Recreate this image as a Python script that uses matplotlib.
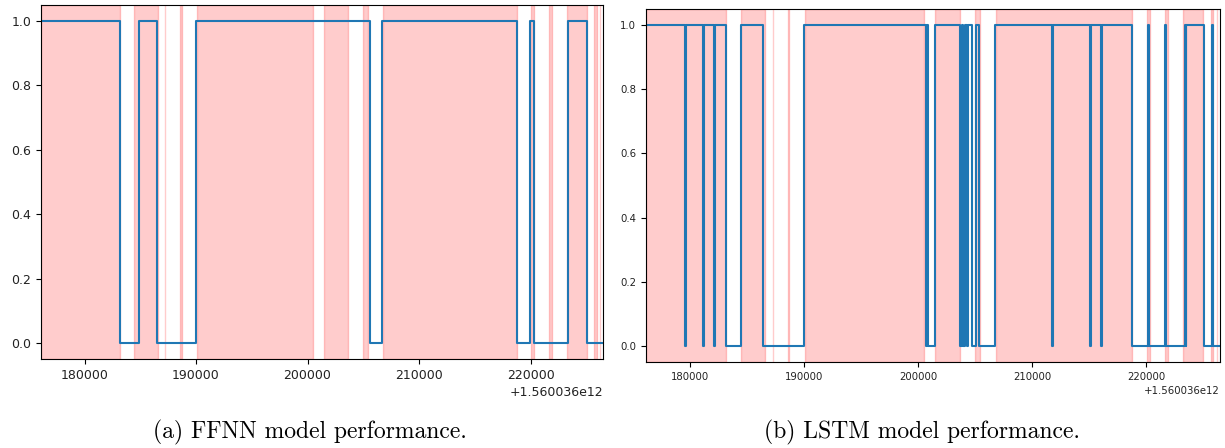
import matplotlib
matplotlib.use('Agg')
import matplotlib.pyplot as plt

# time offsets (ms) relative to 1.560036e12
BASE = 1.560036e12
XLIM = (176100, 226500)

# ground truth intervals shown as red shading
truth_spans = [
  (176100, 183150), (184450, 186550), (187220, 187260), (188550, 188700),
  (190100, 200520), (201500, 203640), (205000, 205400), (206800, 218760),
  (220060, 220330), (221650, 221900), (223250, 225050), (225680, 225930),
  (226200, 226240),
]

# FFNN prediction: change points and value from that point on
ffnn_t = [176100, 183200, 184840, 186480, 189980, 205600, 206700, 218780,
          219960, 220300, 223360, 225030, 226500]
ffnn_v = [1, 0, 1, 0, 1, 0, 1, 0, 1, 0, 1, 0, 0]

# LSTM prediction
lstm_t = [176100, 179560, 179640, 181090, 181170, 182060, 182140, 183140, 184470,
          186410, 189990, 200680, 200780, 200900, 201450, 203680, 203860, 203970,
          204100, 204270, 204360, 204710, 205090, 205300, 206770, 211770, 211850,
          215070, 215150, 216060, 216140, 218740, 220160, 220240, 221710, 221790,
          223390, 223480, 223560, 225070, 225840, 225920, 226500]
lstm_v = [1, 0, 1, 0, 1, 0, 1, 0, 1,
          0, 1, 0, 1, 0, 1, 0, 1, 0,
          1, 0, 1, 0, 1, 0, 1, 0, 1,
          0, 1, 0, 1, 0, 1, 0, 1, 0,
          1, 0, 1, 0, 1, 0, 0]

captions = ['(a) FFNN model performance.', '(b) LSTM model performance.']


def draw(ax, t, v, fs):
  for a, b in truth_spans:
    ax.axvspan(BASE + a, BASE + b, color='red', alpha=0.2)
  ax.plot([BASE + x for x in t], v, drawstyle='steps-post', color='#1f77b4', lw=1.5)
  ax.set_xlim(BASE + XLIM[0], BASE + XLIM[1])
  ax.set_ylim(-0.05, 1.05)
  ax.set_xticks([BASE + x for x in (180000, 190000, 200000, 210000, 220000)])
  ax.tick_params(labelsize=fs, labelcolor='#222222')
  ax.xaxis.get_offset_text().set_fontsize(fs)
  ax.xaxis.get_offset_text().set_color('#222222')


def main():
  fig = plt.figure(figsize=(12.25, 4.48), dpi=100)
  ax1 = fig.add_axes([0.0335, 0.1987, 0.4588, 0.7902])
  ax2 = fig.add_axes([0.5273, 0.192, 0.4686, 0.788])
  draw(ax1, ffnn_t, ffnn_v, 9)
  draw(ax2, lstm_t, lstm_v, 7.3)

  fig.text(310 / 1225, 1 - 432 / 448, captions[0], ha='center', va='center',
           family='cmr10', fontsize=17)
  fig.text(922 / 1225, 1 - 432 / 448, captions[1], ha='center', va='center',
           family='cmr10', fontsize=17)
  fig.savefig('out.png', dpi=100)


if __name__ == "__main__":
  main()
